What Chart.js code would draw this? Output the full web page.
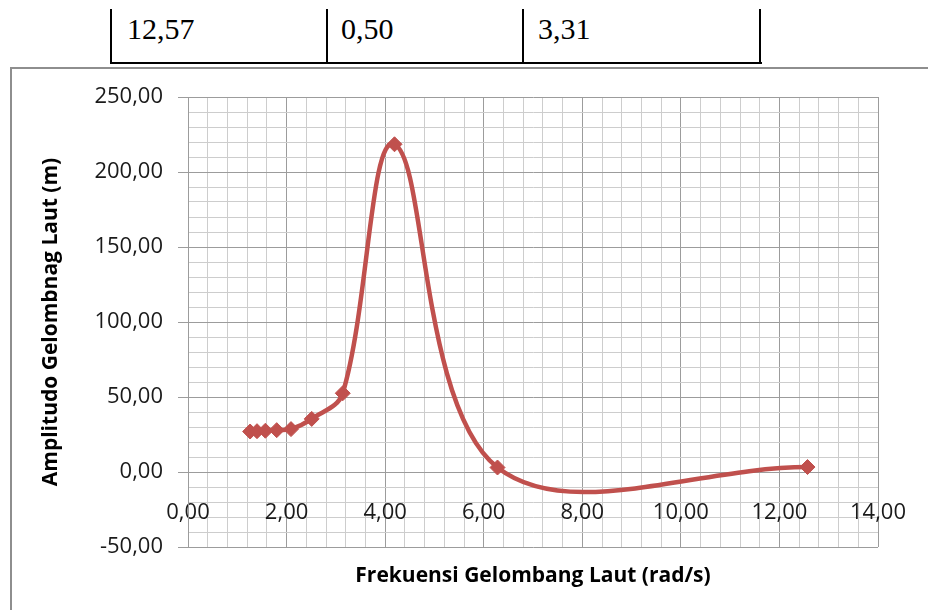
<!DOCTYPE html>
<html>
<head>
<meta charset="utf-8">
<script src="https://cdn.jsdelivr.net/npm/chart.js@4.4.1/dist/chart.umd.min.js"></script>
<style>
  html, body { margin: 0; padding: 0; background: #ffffff; }
  body { width: 928px; height: 610px; overflow: hidden; position: relative; }
  .frame { position: absolute; left: 10px; top: 67px; width: 1000px; height: 600px;
           border-left: 2px solid #8e8e8e; border-top: 2px solid #8e8e8e; }
  .vl { position: absolute; top: 9px; width: 2px; height: 55px; background: #000; }
  .hl { position: absolute; left: 110px; top: 62px; width: 652px; height: 2px; background: #000; }
  .cell { position: absolute; top: 14px; font-family: "Liberation Serif", "Times New Roman", serif;
          font-size: 30px; line-height: 30px; color: #000; }
  #wrap { position: absolute; left: 0; top: 0; width: 928px; height: 610px; }
</style>
</head>
<body>
<div class="frame"></div>
<div class="vl" style="left:110px"></div>
<div class="vl" style="left:326px"></div>
<div class="vl" style="left:522px"></div>
<div class="vl" style="left:759px"></div>
<div class="hl"></div>
<div class="cell" style="left:127px">12,57</div>
<div class="cell" style="left:341px">0,50</div>
<div class="cell" style="left:538px">3,31</div>
<div id="wrap"><canvas id="c" width="928" height="610"></canvas></div>
<script>
// Wave frequency (rad/s) and amplitude (m)
const frekuensi = [1.26, 1.40, 1.57, 1.80, 2.09, 2.51, 3.14, 4.19, 6.28, 12.57];
const amplitudo = [27.0, 27.2, 27.5, 27.9, 28.6, 35.4, 52.5, 218.5, 3.0, 3.31];
const xTitle = 'Frekuensi Gelombang Laut (rad/s)';
const yTitle = 'Amplitudo Gelombnag Laut (m)';

const points = frekuensi.map((f, i) => ({ x: f, y: amplitudo[i] }));
const fmt = v => v.toFixed(2).replace('.', ',');
const isMult = (v, m) => Math.abs(v / m - Math.round(v / m)) < 1e-6;
const FONT = '"Open Sans", "Noto Sans", sans-serif';
const RED = '#C0504D';
const MAJOR = '#9c9c9c';
const MINOR = '#cdcdcd';

new Chart(document.getElementById('c'), {
  type: 'line',
  data: {
    datasets: [{
      data: points,
      borderColor: RED,
      backgroundColor: RED,
      borderWidth: 4.5,
      tension: 0.36,
      pointStyle: 'rectRot',
      pointRadius: 7.5,
      pointBorderWidth: 1,
      pointBackgroundColor: RED,
      pointBorderColor: RED,
      fill: false
    }]
  },
  options: {
    responsive: false,
    animation: false,
    layout: { padding: { left: 0, top: 97, right: 50, bottom: 0 } },
    plugins: { legend: { display: false }, tooltip: { enabled: false } },
    scales: {
      x: {
        type: 'linear',
        position: { y: 0 },
        min: 0, max: 14,
        grid: {
          drawTicks: false,
          lineWidth: 1,
          color: ctx => isMult(ctx.tick.value, 2) ? MAJOR : MINOR
        },
        border: { color: MAJOR, width: 1 },
        ticks: {
          stepSize: 0.4,
          autoSkip: false,
          maxRotation: 0,
          padding: 28,
          color: '#1a1a1a',
          font: { family: FONT, size: 22 },
          callback: v => isMult(v, 2) ? fmt(v) : ''
        },
        afterFit: s => { s.paddingLeft = 0; s.paddingRight = 0; }
      },
      x2: {
        type: 'linear',
        axis: 'x',
        position: 'bottom',
        min: 0, max: 14,
        grid: { display: false, drawTicks: false },
        border: { display: false },
        ticks: { display: false },
        title: {
          display: true,
          text: xTitle,
          color: '#000',
          font: { family: FONT, size: 21, weight: 'bold' },
          padding: { top: 0, bottom: 21 }
        },
        afterFit: s => { s.height = 63; s.paddingLeft = 0; s.paddingRight = 0; }
      },
      y: {
        type: 'linear',
        position: 'left',
        min: -50, max: 250,
        grid: {
          lineWidth: 1,
          tickLength: 10,
          color: ctx => isMult(ctx.tick.value, 50) ? MAJOR : MINOR,
          tickColor: ctx => isMult(ctx.tick.value, 50) ? MAJOR : 'rgba(0,0,0,0)'
        },
        border: { color: MAJOR, width: 1 },
        ticks: {
          stepSize: 10,
          autoSkip: false,
          padding: 15,
          color: '#1a1a1a',
          font: { family: FONT, size: 22 },
          callback: v => isMult(v, 50) ? fmt(v) : ''
        },
        title: {
          display: true,
          text: yTitle,
          color: '#000',
          font: { family: FONT, size: 21, weight: 'bold' },
          padding: { top: 38, bottom: 0 }
        },
        afterFit: s => { s.width = 188; }
      }
    }
  }
});
</script>
</body>
</html>
